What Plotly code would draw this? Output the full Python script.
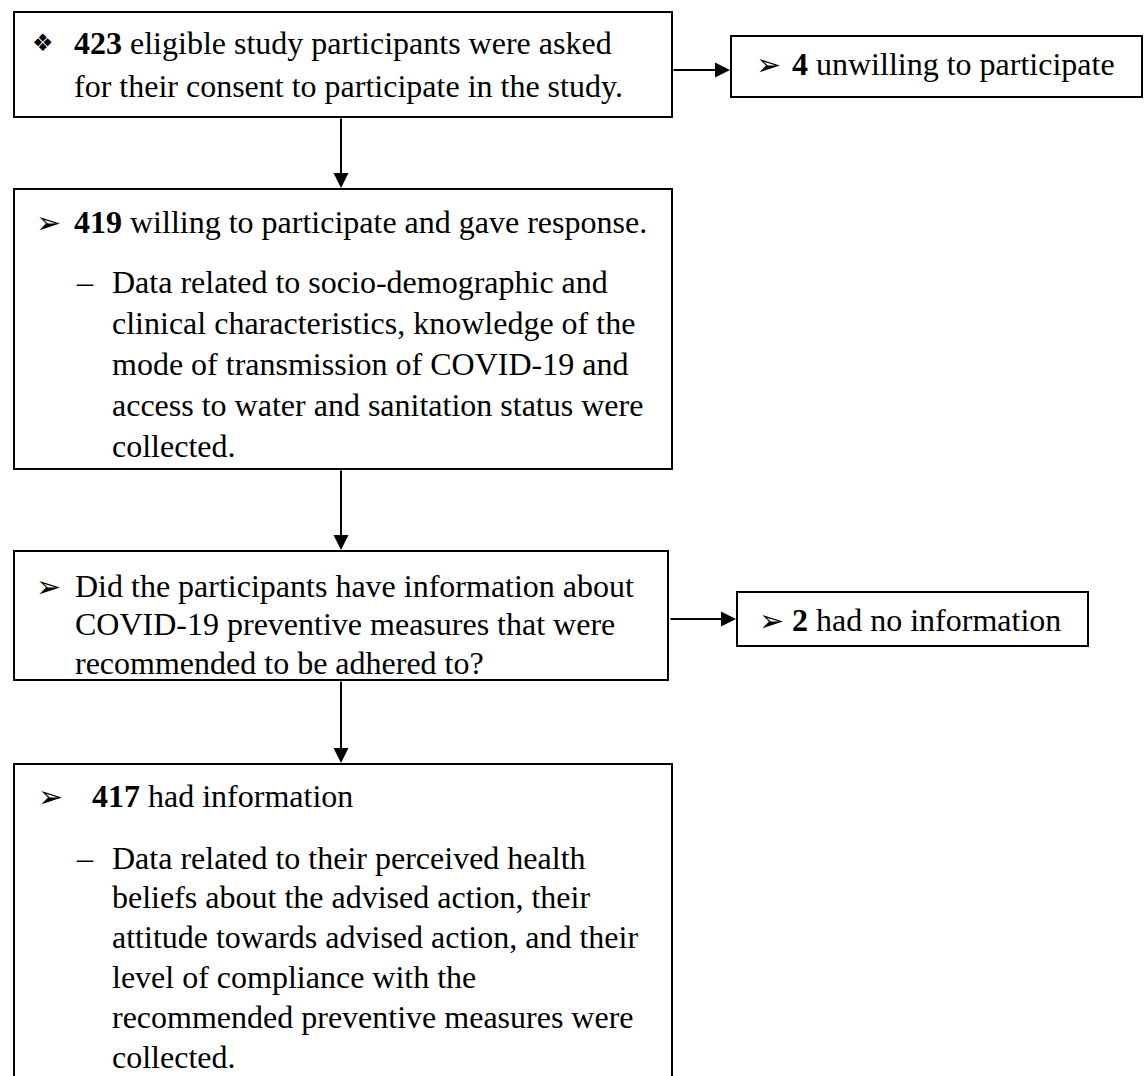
import plotly.graph_objects as go

# ---- content (data) ----
counts = [423, 4, 419, 2, 417]
box1_lines = [f"<b>{counts[0]}</b> eligible study participants were asked",
              "for their consent to participate in the study."]
box2_lines = [f"<b>{counts[1]}</b> unwilling to participate"]
box3_head = f"<b>{counts[2]}</b> willing to participate and gave response."
box3_lines = ["Data related to socio-demographic and",
              "clinical characteristics, knowledge of the",
              "mode of transmission of COVID-19 and",
              "access to water and sanitation status were",
              "collected."]
box4_lines = ["Did the participants have information about",
              "COVID-19 preventive measures that were",
              "recommended to be adhered to?"]
box5_lines = [f"<b>{counts[3]}</b> had no information"]
box6_head = f"<b>{counts[4]}</b> had information"
box6_lines = ["Data related to their perceived health",
              "beliefs about the advised action, their",
              "attitude towards advised action, and their",
              "level of compliance with the",
              "recommended preventive measures were",
              "collected."]

# ---- layout (pixel-like coordinates) ----
W, H = 1145, 1076
FONT = "Liberation Serif, Times New Roman, serif"
FS = 32
BFS = 30

boxes = [(14, 12, 672, 117), (731, 36, 1142, 97), (14, 189, 672, 469),
         (14, 551, 668, 680), (737, 592, 1088, 646), (14, 764, 672, 1085)]
arrows = [((672, 70), (730, 70)), ((341, 117), (341, 188)),
          ((341, 469), (341, 550)), ((669, 619), (736, 619)),
          ((341, 680), (341, 763))]

fig = go.Figure()
shapes = []
for x0, y0, x1, y1 in boxes:
    shapes.append(dict(type="rect", xref="x", yref="y", x0=x0, y0=y0, x1=x1, y1=y1,
                       line=dict(color="black", width=2), fillcolor="white", layer="below"))

annotations = []
for (sx, sy), (ex, ey) in arrows:
    annotations.append(dict(x=ex, y=ey, ax=sx, ay=sy, xref="x", yref="y", axref="x", ayref="y",
                            showarrow=True, arrowhead=2, arrowsize=1.5, arrowwidth=2,
                            arrowcolor="black", text=""))


def txt(x, y, s, size=FS, font=FONT):
    annotations.append(dict(x=x, y=y, xref="x", yref="y", text=s, showarrow=False,
                            xanchor="left", yanchor="middle",
                            font=dict(family=font, size=size, color="black")))


SYM = "DejaVu Sans"
# box 1
txt(30, 43, "❖", 24, SYM)
for t, y in zip(box1_lines, [43, 86]):
    txt(72, y, t)
# box 2
txt(754, 64, "➢", BFS, SYM)
txt(790, 64, box2_lines[0])
# box 3
txt(34, 222, "➢", BFS, SYM)
txt(72, 222, box3_head)
txt(74, 282, "–")
for t, y in zip(box3_lines, [282, 323, 364, 405, 446]):
    txt(110, y, t)
# box 4
txt(34, 586, "➢", BFS, SYM)
for t, y in zip(box4_lines, [586, 624, 663]):
    txt(73, y, t)
# box 5
txt(757, 620, "➢", BFS, SYM)
txt(790, 620, box5_lines[0])
# box 6
txt(36, 796, "➢", BFS, SYM)
txt(90, 796, box6_head)
txt(74, 858, "–")
for t, y in zip(box6_lines, [858, 897, 937, 977, 1017, 1057]):
    txt(110, y, t)

fig.update_layout(width=W, height=H, margin=dict(l=0, r=0, t=0, b=0),
                  paper_bgcolor="white", plot_bgcolor="white",
                  shapes=shapes, annotations=annotations, showlegend=False,
                  xaxis=dict(range=[0, W], visible=False, fixedrange=True),
                  yaxis=dict(range=[H, 0], visible=False, fixedrange=True))
fig.write_html("out.html", config={"displayModeBar": False},
               post_script="document.body.style.margin='0';document.body.style.overflow='hidden';")
